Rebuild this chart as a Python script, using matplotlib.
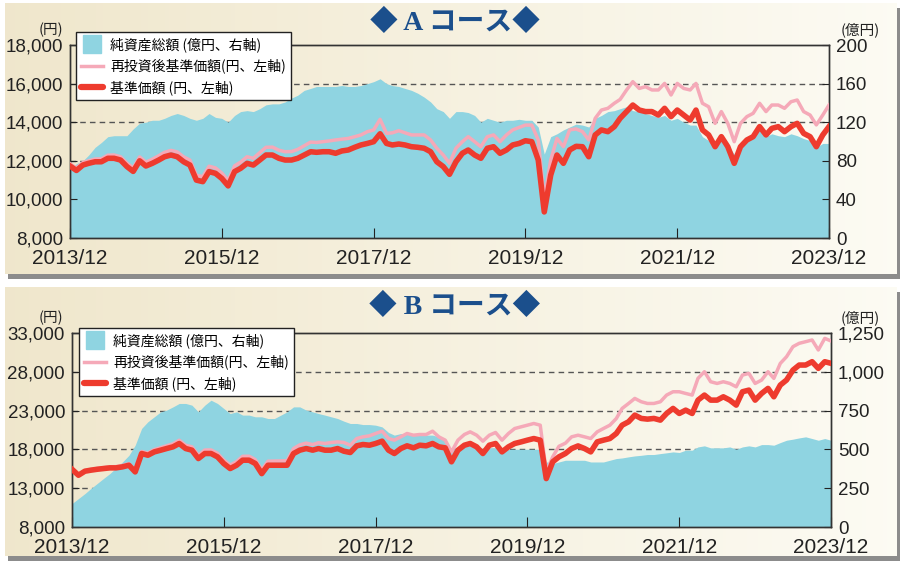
import numpy as np
import pandas as pd
import matplotlib
matplotlib.use('Agg')
import matplotlib.pyplot as plt
from matplotlib.patches import Rectangle
from matplotlib.lines import Line2D
from matplotlib.font_manager import FontProperties, findfont

# ---- data (monthly, 2013/12 .. 2023/12) ----
months = pd.date_range('2013-12-01', periods=121, freq='MS')

A_PRICE = [11730, 11500, 11780, 11870, 11950, 11950, 12130, 12130, 12040, 11700,
           11450, 12000, 11730, 11870, 12040, 12210, 12300, 12210, 11950, 11780,
           11000, 10920, 11440, 11350, 11090, 10700, 11440, 11610, 11870, 11780,
           12040, 12300, 12300, 12130, 12040, 12040, 12130, 12300, 12470, 12440,
           12470, 12470, 12390, 12510, 12560, 12700, 12820, 12900, 12990, 13400,
           12900, 12820, 12870, 12820, 12730, 12700, 12650, 12470, 11950, 11700,
           11300, 11950, 12390, 12560, 12300, 12130, 12650, 12730, 12390, 12560,
           12820, 12900, 13040, 12990, 12040, 9350, 11260, 12300, 11870, 12560,
           12750, 12730, 12210, 13340, 13600, 13510, 13770, 14200, 14550, 14890,
           14630, 14550, 14550, 14370, 14720, 14290, 14630, 14370, 14110, 14630,
           13600, 13340, 12730, 13250, 12730, 11870, 12730, 13080, 13250, 13770,
           13340, 13680, 13770, 13510, 13770, 13940, 13420, 13250, 12730, 13340,
           13770]
A_REINV = [11850, 11620, 11910, 12000, 12090, 12100, 12290, 12300, 12210, 11880,
           11630, 12200, 11930, 12080, 12260, 12440, 12540, 12460, 12200, 12040,
           11250, 11180, 11720, 11630, 11370, 10980, 11740, 11930, 12210, 12130,
           12420, 12700, 12710, 12550, 12470, 12480, 12590, 12780, 12970, 12950,
           12990, 13030, 13080, 13120, 13160, 13250, 13340, 13510, 13600, 14150,
           13420, 13450, 13560, 13450, 13340, 13340, 13340, 13080, 12650, 12300,
           11870, 12650, 12990, 13250, 12990, 12730, 13250, 13340, 12990, 13340,
           13600, 13730, 13850, 13850, 13080, 10000, 12040, 13160, 12730, 13600,
           13650, 13510, 13080, 14200, 14630, 14720, 14980, 15180, 15670, 16100,
           15750, 15840, 15670, 15670, 16010, 15410, 16010, 15750, 15670, 16010,
           14980, 14800, 13940, 14550, 13940, 12990, 13940, 14290, 14460, 14980,
           14550, 14890, 14890, 14720, 15060, 15150, 14550, 14370, 13860, 14370,
           14890]
A_NAV = [72, 77, 80, 86, 94, 99, 105, 106, 106, 106,
         113, 119, 120, 122, 122, 124, 127, 129, 127, 124,
         122, 124, 129, 125, 124, 120, 127, 131, 132, 131,
         134, 138, 139, 139, 141, 145, 148, 153, 155, 157,
         157, 157, 157, 158, 157, 157, 158, 160, 162, 165,
         160, 158, 157, 155, 153, 150, 146, 141, 134, 131,
         124, 131, 131, 130, 127, 120, 124, 122, 120, 122,
         122, 123, 122, 122, 115, 87, 105, 108, 112, 115,
         118, 117, 115, 124, 127, 131, 132, 134, 136, 132,
         131, 129, 127, 125, 127, 122, 124, 120, 117, 117,
         105, 101, 98, 101, 96, 87, 96, 101, 105, 112,
         105, 108, 106, 105, 108, 106, 103, 101, 94, 98,
         98]

B_PRICE = [15440, 14670, 15190, 15320, 15440, 15530, 15620, 15620, 15750, 15960,
           15100, 17470, 17250, 17680, 17900, 18110, 18330, 18760, 18110, 17900,
           16820, 17470, 17470, 17040, 16180, 15530, 15960, 16610, 16610, 16180,
           14880, 15960, 15960, 15960, 15960, 17470, 17900, 18110, 17900, 18110,
           17900, 17900, 18110, 17770, 17600, 18460, 18630, 18540, 18760, 19060,
           17900, 17470, 18110, 18460, 18200, 18540, 18460, 18760, 18330, 18200,
           16400, 17900, 18540, 18760, 18330, 17470, 18540, 18760, 17680, 18330,
           18760, 18970, 19190, 19400, 19190, 14240, 16400, 17040, 17470, 18110,
           18450, 18110, 17680, 18970, 19190, 19400, 20050, 21120, 21560, 22420,
           21990, 21900, 21990, 21770, 22630, 23280, 22630, 23060, 22630, 24350,
           25000, 24350, 24350, 24780, 24350, 23710, 25430, 25640, 24350, 25210,
           25860, 24780, 26290, 26940, 28220, 28870, 28870, 29300, 28440, 29300,
           29090]
B_REINV = [15490, 14730, 15260, 15410, 15540, 15650, 15760, 15780, 15930, 16160,
           15320, 17730, 17530, 17980, 18220, 18460, 18710, 19180, 18530, 18330,
           17240, 17920, 17930, 17500, 16630, 15970, 16420, 17110, 17120, 16680,
           15360, 16480, 16500, 16520, 16540, 18110, 18580, 18810, 18620, 18860,
           18760, 18890, 18970, 18890, 18540, 19400, 19620, 19750, 20050, 20350,
           19400, 19190, 19620, 20050, 19830, 19920, 19920, 20350, 19620, 19190,
           17680, 19190, 19920, 20260, 19830, 19060, 19830, 20180, 19190, 20050,
           20690, 20910, 21120, 21340, 21120, 15100, 17040, 18400, 18800, 19620,
           19830, 19620, 19400, 20260, 20690, 21120, 21980, 23280, 23920, 24570,
           24140, 23920, 23920, 24140, 25000, 25430, 25430, 25210, 25000, 27150,
           28010, 26720, 26500, 26720, 26500, 26070, 27580, 27790, 26500, 26930,
           28010, 27150, 29080, 29940, 31240, 31670, 31880, 32100, 30810, 32310,
           31970]
B_NAV = [151, 183, 215, 247, 280, 312, 344, 381, 419, 462,
         527, 635, 678, 710, 742, 753, 774, 796, 796, 785,
         742, 785, 817, 796, 764, 731, 742, 721, 721, 710,
         710, 699, 699, 721, 742, 774, 774, 753, 742, 731,
         721, 710, 699, 682, 667, 667, 660, 660, 656, 645,
         609, 592, 602, 596, 596, 592, 592, 592, 581, 559,
         495, 516, 527, 527, 516, 495, 510, 510, 488, 501,
         501, 501, 501, 501, 501, 420, 409, 419, 430, 430,
         430, 430, 419, 419, 419, 430, 441, 445, 452, 458,
         462, 467, 467, 473, 478, 484, 480, 495, 495, 516,
         523, 510, 510, 510, 516, 501, 516, 523, 516, 531,
         531, 527, 544, 559, 566, 574, 581, 570, 559, 570,
         559]

X_TICKS = ['2013-12-01', '2015-12-01', '2017-12-01', '2019-12-01', '2021-12-01', '2023-12-01']
X_LABELS = ['2013/12', '2015/12', '2017/12', '2019/12', '2021/12', '2023/12']
LEGEND_LABELS = ['純資産総額 (億円、右軸)', '再投資後基準価額(円、左軸)', '基準価額 (円、左軸)']

CYAN = '#8fd4e1'
PINK = '#f5a9b8'
RED = '#ee3b2e'
NAVY = '#1b4f8c'

W, H = 908, 561


def has_font(name):
    try:
        findfont(FontProperties(family=name), fallback_to_default=False)
        return True
    except Exception:
        return False


NUM_FONT = 'Liberation Sans Narrow' if has_font('Liberation Sans Narrow') else 'Liberation Sans'
JP = ['Noto Sans CJK JP', 'DejaVu Sans']


def rect(x0, y0, x1, y1):
    # pixel box (top-left origin) -> figure fraction
    return [x0 / W, 1 - y1 / H, (x1 - x0) / W, (y1 - y0) / H]


fig = plt.figure(figsize=(W / 100, H / 100), dpi=100)
fig.patch.set_facecolor('white')

grad = np.linspace(0, 1, 256)
c0 = np.array([0.94, 0.905, 0.80])
c1 = np.array([0.99, 0.985, 0.955])
grad_img = (c0[None, :] * (1 - grad[:, None]) + c1[None, :] * grad[:, None])[None, :, :]


def draw_panel(box, axrect, title, price, reinv, nav, lims, steps, rlims, rsteps, legxy):
    bx0, by0, bx1, by1 = box
    r = rect(bx0 + 3, by0 + 5, bx1 + 3, by1 + 5)
    fig.patches.append(Rectangle((r[0], r[1]), r[2], r[3], transform=fig.transFigure,
                                 facecolor='#8c8c8c', edgecolor='none', zorder=-2))
    bg = fig.add_axes(rect(*box), zorder=-1)
    bg.imshow(grad_img, aspect='auto', extent=(0, 1, 0, 1))
    bg.axis('off')

    ax = fig.add_axes(rect(*axrect))
    axr = ax.twinx()
    ax.set_zorder(axr.get_zorder() + 1)
    ax.patch.set_visible(False)
    axr.patch.set_facecolor('white')

    # area on right axis
    axr.fill_between(months, 0, nav, color=CYAN, lw=0, zorder=1)
    axr.set_ylim(*rlims)
    rt = np.arange(rlims[0], rlims[1] + 1, rsteps)
    for v in rt[1:-1]:
        axr.axhline(v, color='#555555', lw=1.0, ls=(0, (4, 3)), zorder=0.5)
    axr.set_yticks(rt)
    axr.set_yticklabels([f'{v:,.0f}' for v in rt], fontfamily=NUM_FONT, fontsize=13.5)
    axr.tick_params(axis='y', direction='in', length=5, pad=5, colors='#222222')

    ax.plot(months, reinv, color=PINK, lw=2.5, solid_joinstyle='round', zorder=3)
    ax.plot(months, price, color=RED, lw=4.0, solid_joinstyle='round', zorder=4)
    ax.set_ylim(*lims)
    lt = np.arange(lims[0], lims[1] + 1, steps)
    ax.set_yticks(lt)
    ax.set_yticklabels([f'{v:,.0f}' for v in lt], fontfamily=NUM_FONT, fontsize=13.5)
    ax.tick_params(axis='y', direction='in', length=5, pad=5, colors='#222222')

    ax.set_xlim(months[0], months[-1])
    ax.set_xticks(pd.to_datetime(X_TICKS))
    ax.set_xticklabels(X_LABELS, fontfamily='Liberation Sans', fontsize=15)
    ax.tick_params(axis='x', direction='in', length=7, pad=8, colors='#222222')

    for a in (ax, axr):
        for s in a.spines.values():
            s.set_color('#333333')
            s.set_linewidth(1.0)

    handles = [Line2D([], [], marker='s', ls='none', ms=12.5, color=CYAN),
               Line2D([], [], color=PINK, lw=2.5),
               Line2D([], [], color=RED, lw=4.5, solid_capstyle='round')]
    leg = ax.legend(handles, LEGEND_LABELS, loc='upper left',
                    bbox_to_anchor=(legxy[0] / W, 1 - legxy[1] / H),
                    bbox_transform=fig.transFigure, frameon=True, fancybox=False,
                    edgecolor='#222222', framealpha=1, borderaxespad=0,
                    prop=FontProperties(family=JP, size=10), handlelength=1.6,
                    handletextpad=0.5, labelspacing=0.5, borderpad=0.35)
    leg.get_frame().set_linewidth(1.0)

    ty = box[1] + 19
    fig.text(455 / W, 1 - ty / H, title, ha='center', va='center', fontsize=20,
             fontweight='bold', color=NAVY, family=['Liberation Serif', 'Noto Sans CJK JP'])
    uy = axrect[1] - 15
    fig.text(51 / W, 1 - uy / H, '(円)', ha='center', va='center', fontsize=10.5,
             family=JP, color='#222222')
    fig.text(860 / W, 1 - uy / H, '(億円)', ha='center', va='center', fontsize=10.5,
             family=JP, color='#222222')


draw_panel((5, 3, 897, 274), (70, 45, 829, 238), '◆ A コース◆',
           A_PRICE, A_REINV, A_NAV, (8000, 18000), 2000, (0, 200), 40, (76, 32))
draw_panel((5, 287, 897, 556), (72, 333, 831, 527), '◆ B コース◆',
           B_PRICE, B_REINV, B_NAV, (8000, 33000), 5000, (0, 1250), 250, (79, 328))

fig.savefig('out.png', dpi=100, facecolor=fig.get_facecolor())
